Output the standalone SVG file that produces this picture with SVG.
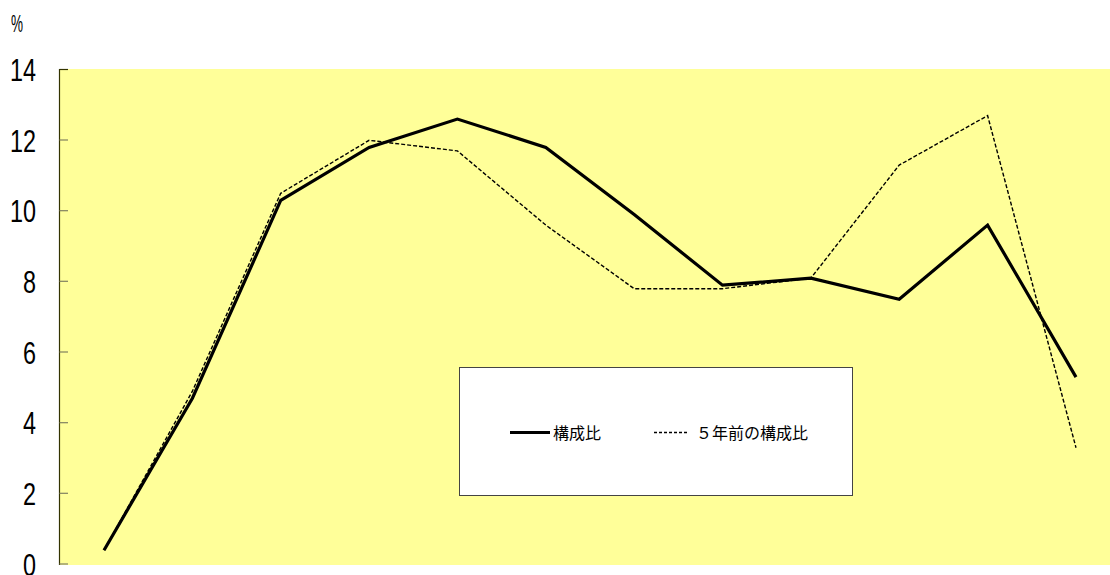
<svg xmlns="http://www.w3.org/2000/svg" width="1110" height="575" viewBox="0 0 1110 575">
<style>
.lbl{font-family:"Liberation Sans","DejaVu Sans",sans-serif;font-size:32px;fill:#000;text-anchor:end}
.leg{font-family:"Noto Sans CJK JP","Noto Sans CJK SC",sans-serif;font-size:16px;fill:#000}
.tick{stroke:#808060;stroke-width:1.2}
.s1{fill:none;stroke:#000;stroke-width:3.2;stroke-linejoin:miter}
.s2{fill:none;stroke:#000;stroke-width:1.4;stroke-dasharray:4 2}
</style>
<rect width="1110" height="575" fill="#fff"/>
<g id="plot">
<rect x="59.5" y="69" width="1051" height="496" fill="#FFFF99"/>
<line x1="59.5" y1="69" x2="59.5" y2="565" stroke="#333300" stroke-width="1.2"/>
</g>
<g id="axis">
<line class="tick" x1="59.5" y1="69.5" x2="68" y2="69.5" style="stroke:#333300"/>
<line class="tick" x1="59.5" y1="140" x2="68" y2="140"/>
<line class="tick" x1="59.5" y1="210.7" x2="68" y2="210.7"/>
<line class="tick" x1="59.5" y1="281.3" x2="68" y2="281.3"/>
<line class="tick" x1="59.5" y1="352" x2="68" y2="352"/>
<line class="tick" x1="59.5" y1="422.7" x2="68" y2="422.7"/>
<line class="tick" x1="59.5" y1="493.3" x2="68" y2="493.3"/>
<line class="tick" x1="59.5" y1="564" x2="68" y2="564"/>
<text class="lbl" x="36" y="81" textLength="26" lengthAdjust="spacingAndGlyphs">14</text>
<text class="lbl" x="36" y="151.5" textLength="26" lengthAdjust="spacingAndGlyphs">12</text>
<text class="lbl" x="36" y="222" textLength="26" lengthAdjust="spacingAndGlyphs">10</text>
<text class="lbl" x="36" y="292.5" textLength="13" lengthAdjust="spacingAndGlyphs">8</text>
<text class="lbl" x="36" y="363.5" textLength="13" lengthAdjust="spacingAndGlyphs">6</text>
<text class="lbl" x="36" y="434" textLength="13" lengthAdjust="spacingAndGlyphs">4</text>
<text class="lbl" x="36" y="504.5" textLength="13" lengthAdjust="spacingAndGlyphs">2</text>
<text class="lbl" x="36" y="576" textLength="13" lengthAdjust="spacingAndGlyphs">0</text>
<text x="11" y="32" font-family="Liberation Sans, sans-serif" font-size="24" textLength="12" lengthAdjust="spacingAndGlyphs">%</text>
</g>
<g id="connectors">
<polyline id="prev" class="s2" points="104,550.2 192.4,391.2 280.7,193.3 369.1,140.3 457.4,150.9 545.8,225.1 634.2,288.7 722.5,288.7 810.9,278.1 899.2,165.1 987.6,115.6 1076,447.7"/>
<polyline id="curr" class="s1" points="104,550.2 192.4,398.2 280.7,200.4 369.1,147.4 457.4,119.1 545.8,147.4 634.2,214.5 722.5,285.2 810.9,278.1 899.2,299.3 987.6,225.1 1076,377.1"/>
</g>
<g id="legend">
<rect x="459.5" y="367.5" width="393" height="128" fill="#fff" stroke="#444" stroke-width="1"/>
<line x1="510" y1="432.5" x2="550" y2="432.5" stroke="#000" stroke-width="3.2"/>
<text class="leg" x="553" y="438.5">構成比</text>
<line x1="654" y1="432.5" x2="688" y2="432.5" stroke="#000" stroke-width="1.4" stroke-dasharray="3 2"/>
<text class="leg" x="696" y="438.5">５年前の構成比</text>
</g>
</svg>
